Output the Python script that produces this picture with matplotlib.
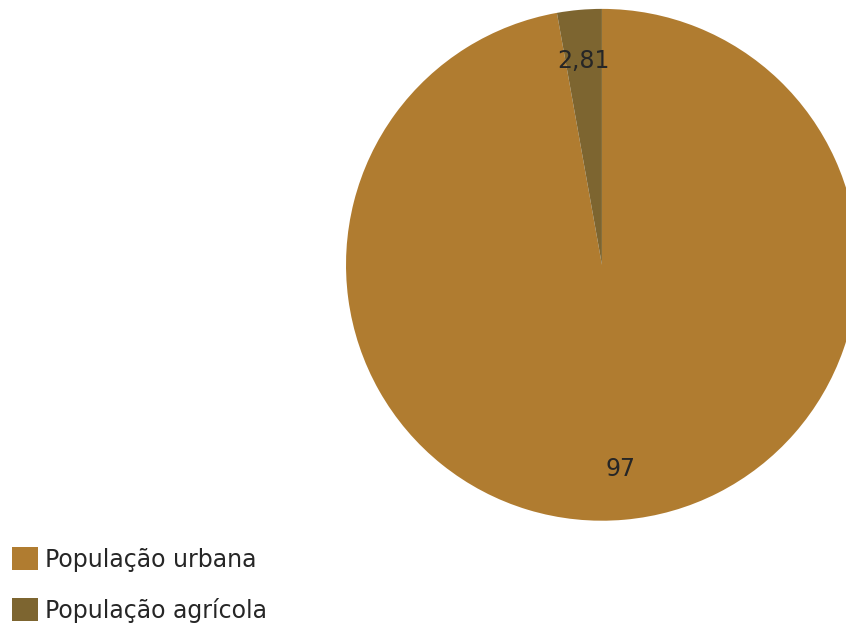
import matplotlib.pyplot as plt
from matplotlib.patches import Patch

# data
categories = ['População urbana', 'População agrícola']
values = [97, 2.81]
value_labels = ['97', '2,81']
colors = ['#B07C30', '#7D6530']

fig = plt.figure(figsize=(8.46, 6.26), dpi=100)
fig.patch.set_facecolor('white')

# pie axes placed so the circle is slightly cut on the right like the original
ax = fig.add_axes([0.409, 0.168, 0.605, 0.818])
wedges, texts = ax.pie(values, colors=colors, startangle=90, counterclock=False,
                       labels=value_labels, labeldistance=0.8,
                       textprops={'fontsize': 17, 'color': '#262626'})
for t in texts:
    t.set_ha('center')
    t.set_va('center')
ax.set_aspect('equal')
ax.set_xlim(-1, 1)
ax.set_ylim(-1, 1)
ax.axis('off')

handles = [Patch(facecolor=c, edgecolor='none') for c in colors]
fig.legend(handles, categories, loc='lower left', bbox_to_anchor=(0.003, -0.01),
           frameon=False, fontsize=17, handlelength=1.1, handleheight=1.1,
           handletextpad=0.3, labelspacing=1.1, borderaxespad=0.0,
           labelcolor='#262626')

fig.savefig('out.png', dpi=100)
